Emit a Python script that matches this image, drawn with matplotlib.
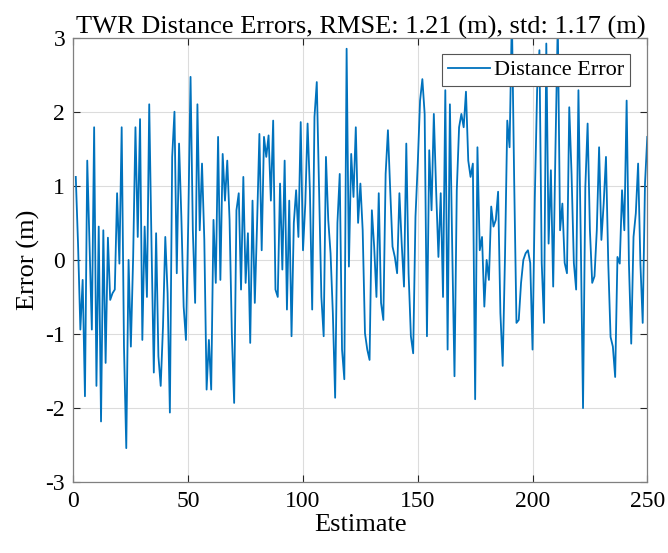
import numpy as np
import matplotlib
matplotlib.use("Agg")
import matplotlib.pyplot as plt

# distance error per estimate (m)
errors = [
    1.12, 0.2, -0.94, -0.27, -1.84, 1.34, 0.2, -0.94, 1.79, -1.7,
    0.45, -2.18, 0.4, -1.39, 0.3, -0.54, -0.45, -0.4, 0.9, -0.05,
    1.79, -1.17, -2.54, 0.0, -1.17, 0.04, 1.79, 0.31, 1.9, -1.08,
    0.45, -0.5, 2.1, 0.2, -1.52, 0.36, -1.3, -1.7, -0.9, 0.31,
    -0.45, -2.06, 1.39, 2.0, -0.18, 1.57, 0.58, -0.63, -1.08, 0.5,
    2.47, 0.4, -0.58, 2.1, 0.4, 1.3, 0.27, -1.75, -1.08, -1.75,
    0.54, -0.31, 1.66, -0.27, 1.43, 0.8, 1.34, 0.54, -1.0, -1.93,
    0.67, 0.9, -0.4, 1.12, -0.31, 0.36, -1.12, 0.8, -0.58, 0.5,
    1.7, 0.13, 1.66, 1.39, 1.68, 0.8, 1.88, -0.4, -0.5, 1.03,
    -0.13, 1.34, -0.67, 0.8, -1.03, 0.5, 0.94, 0.31, 1.86, 0.13,
    0.76, 1.84, 0.94, -0.67, 1.93, 2.4, 0.94, -0.5, -1.03, 1.39,
    0.54, 0.09, -0.72, -1.86, 0.5, 1.16, -1.21, -1.61, 2.85, -0.09,
    1.43, 0.85, 1.79, 0.5, 1.03, 0.4, -0.99, -1.21, -1.35, 0.67,
    0.18, -0.5, 0.9, -0.58, -0.81, 1.16, 1.75, 0.94, 0.18, 0.04,
    -0.18, 0.9, 0.22, -0.36, 1.57, -0.18, -1.03, -1.26, 0.58, 1.3,
    2.15, 2.44, 1.97, -1.03, 1.48, 0.67, 1.97, 0.94, 0.04, 0.9,
    -0.5, 2.29, -1.21, 2.1, 0.18, -1.57, 0.94, 1.79, 1.97, 1.79,
    2.27, 1.34, 1.12, 1.3, -1.88, 1.52, 0.13, 0.31, -0.63, 0.0,
    -0.27, 0.72, 0.45, 0.54, 0.92, -0.72, -1.43, 0.04, 1.88, 1.52,
    3.3, 1.08, -0.85, -0.81, -0.31, 0.0, 0.09, 0.13, -0.04, -1.21,
    0.85, 2.29, 2.83, -0.04, -0.85, 2.92, 0.22, 1.21, -0.36, 1.52,
    3.2, 0.4, 0.76, -0.04, -0.18, 2.06, 1.16, -0.04, -0.4, 2.29,
    0.31, -2.0, 0.98, 1.84, 0.4, -0.31, -0.22, 0.4, 1.52, 0.27,
    0.76, 1.39, -0.05, -1.04, -1.17, -1.58, 0.04, -0.05, 0.94, 0.4,
    2.15, -0.05, -1.13, 0.31, 0.63, 1.3, -0.05, -0.85, 1.03, 1.66,
]
estimates = np.arange(1, len(errors) + 1)

x_ticks = [0, 50, 100, 150, 200, 250]
y_ticks = [-3, -2, -1, 0, 1, 2, 3]

plt.rcParams["font.family"] = ["Liberation Serif", "DejaVu Serif"]
plt.rcParams["axes.unicode_minus"] = False

fig = plt.figure(figsize=(6.68, 5.53), dpi=100)
ax = fig.add_axes([0.110, 0.128, 0.859, 0.804])

ax.plot(estimates, errors, color="#0072BD", linewidth=1.3, label="Distance Error")

ax.set_xlim(0, 250)
ax.set_ylim(-3, 3)
ax.set_xticks(x_ticks)
ax.set_yticks(y_ticks)
ax.tick_params(direction="in", top=True, right=True, length=5, width=0.8,
               color="#262626", labelsize=17, pad=6)
for s in ax.spines.values():
    s.set_color("#808080")
    s.set_linewidth(0.9)
ax.grid(True, color="#dcdcdc", linewidth=0.8)
ax.set_axisbelow(True)

ax.set_xlabel("Estimate", fontsize=19, labelpad=2)
ax.set_ylabel("Error (m)", fontsize=19, labelpad=4)
ax.set_title("TWR Distance Errors, RMSE: 1.21 (m), std: 1.17 (m)", fontsize=19, pad=3)

leg = ax.legend(loc="upper right", fontsize=16, fancybox=False, framealpha=1,
                edgecolor="#555555", handlelength=1.9, handletextpad=0.2,
                borderpad=0.25, borderaxespad=0,
                bbox_to_anchor=(0.970, 0.9625))
leg.get_frame().set_linewidth(0.8)

fig.savefig("out.png", dpi=100)
